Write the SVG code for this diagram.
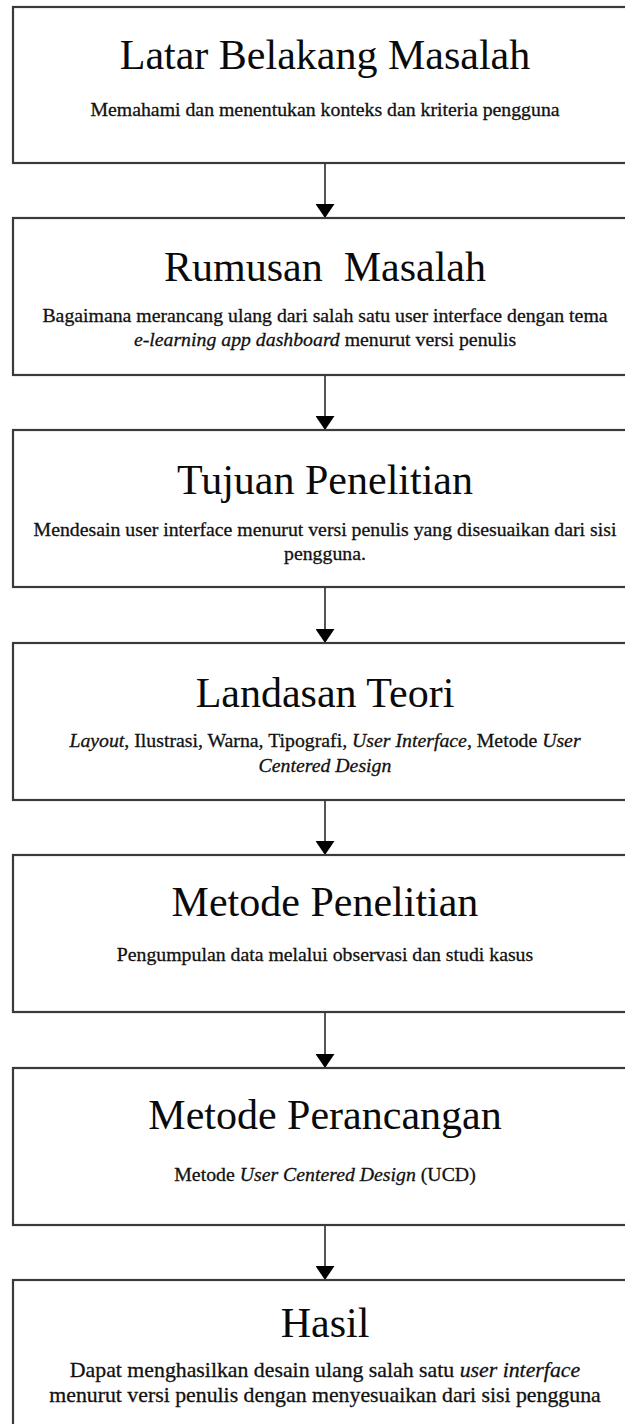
<svg xmlns="http://www.w3.org/2000/svg" width="625" height="1424" viewBox="0 0 625 1424">
<style>
.box{fill:#fff;stroke:#3a3a3a;stroke-width:2.2}
.title{font-family:"Liberation Serif",serif;font-size:42px;fill:#0a0a0a;text-anchor:middle;white-space:pre}
.sub{font-family:"Liberation Serif",serif;font-size:19.8px;fill:#111;stroke:#111;stroke-width:0.3;text-anchor:middle}
.big{font-size:21.8px}
.it{font-style:italic}
.conn{stroke:#555;stroke-width:2;fill:none}
</style>
<defs>
<marker id="arr" viewBox="0 0 14 19" refX="14" refY="9.5" markerWidth="14" markerHeight="19" markerUnits="userSpaceOnUse" orient="auto">
<path d="M0,0 L14,9.5 L0,19 Z" fill="#000"/>
</marker>
</defs>
<rect width="625" height="1424" fill="#fff"/>
<g id="connectors">
<line class="conn" x1="325" y1="163" x2="325" y2="218" marker-end="url(#arr)"/>
<line class="conn" x1="325" y1="375" x2="325" y2="430" marker-end="url(#arr)"/>
<line class="conn" x1="325" y1="587" x2="325" y2="643" marker-end="url(#arr)"/>
<line class="conn" x1="325" y1="800" x2="325" y2="855" marker-end="url(#arr)"/>
<line class="conn" x1="325" y1="1012" x2="325" y2="1068" marker-end="url(#arr)"/>
<line class="conn" x1="325" y1="1225" x2="325" y2="1280" marker-end="url(#arr)"/>
</g>
<g id="latar-belakang">
<rect class="box" x="13" y="7" width="640" height="156"/>
<text class="title" x="325" y="69">Latar Belakang Masalah</text>
<text class="sub" x="325" y="116">Memahami dan menentukan konteks dan kriteria pengguna</text>
</g>
<g id="rumusan-masalah">
<rect class="box" x="13" y="218" width="640" height="157"/>
<text class="title" x="325" y="281" xml:space="preserve">Rumusan  Masalah</text>
<text class="sub" x="325" y="322">Bagaimana merancang ulang dari salah satu user interface dengan tema</text>
<text class="sub" x="325" y="346"><tspan class="it">e-learning app dashboard</tspan> menurut versi penulis</text>
</g>
<g id="tujuan-penelitian">
<rect class="box" x="13" y="430" width="640" height="157"/>
<text class="title" x="325" y="494">Tujuan Penelitian</text>
<text class="sub" x="325" y="536">Mendesain user interface menurut versi penulis yang disesuaikan dari sisi</text>
<text class="sub" x="325" y="560">pengguna.</text>
</g>
<g id="landasan-teori">
<rect class="box" x="13" y="643" width="640" height="157"/>
<text class="title" x="325" y="707">Landasan Teori</text>
<text class="sub" x="325" y="747"><tspan class="it">Layout</tspan>, Ilustrasi, Warna, Tipografi, <tspan class="it">User Interface</tspan>, Metode <tspan class="it">User</tspan></text>
<text class="sub" x="325" y="772"><tspan class="it">Centered Design</tspan></text>
</g>
<g id="metode-penelitian">
<rect class="box" x="13" y="855" width="640" height="157"/>
<text class="title" x="325" y="916">Metode Penelitian</text>
<text class="sub" x="325" y="961">Pengumpulan data melalui observasi dan studi kasus</text>
</g>
<g id="metode-perancangan">
<rect class="box" x="13" y="1068" width="640" height="157"/>
<text class="title" x="325" y="1129">Metode Perancangan</text>
<text class="sub" x="325" y="1181">Metode <tspan class="it">User Centered Design</tspan> (UCD)</text>
</g>
<g id="hasil">
<rect class="box" x="13" y="1280" width="640" height="170"/>
<text class="title" x="325" y="1337">Hasil</text>
<text class="sub big" x="325" y="1377">Dapat menghasilkan desain ulang salah satu <tspan class="it">user interface</tspan></text>
<text class="sub big" x="325" y="1402">menurut versi penulis dengan menyesuaikan dari sisi pengguna</text>
</g>
</svg>
